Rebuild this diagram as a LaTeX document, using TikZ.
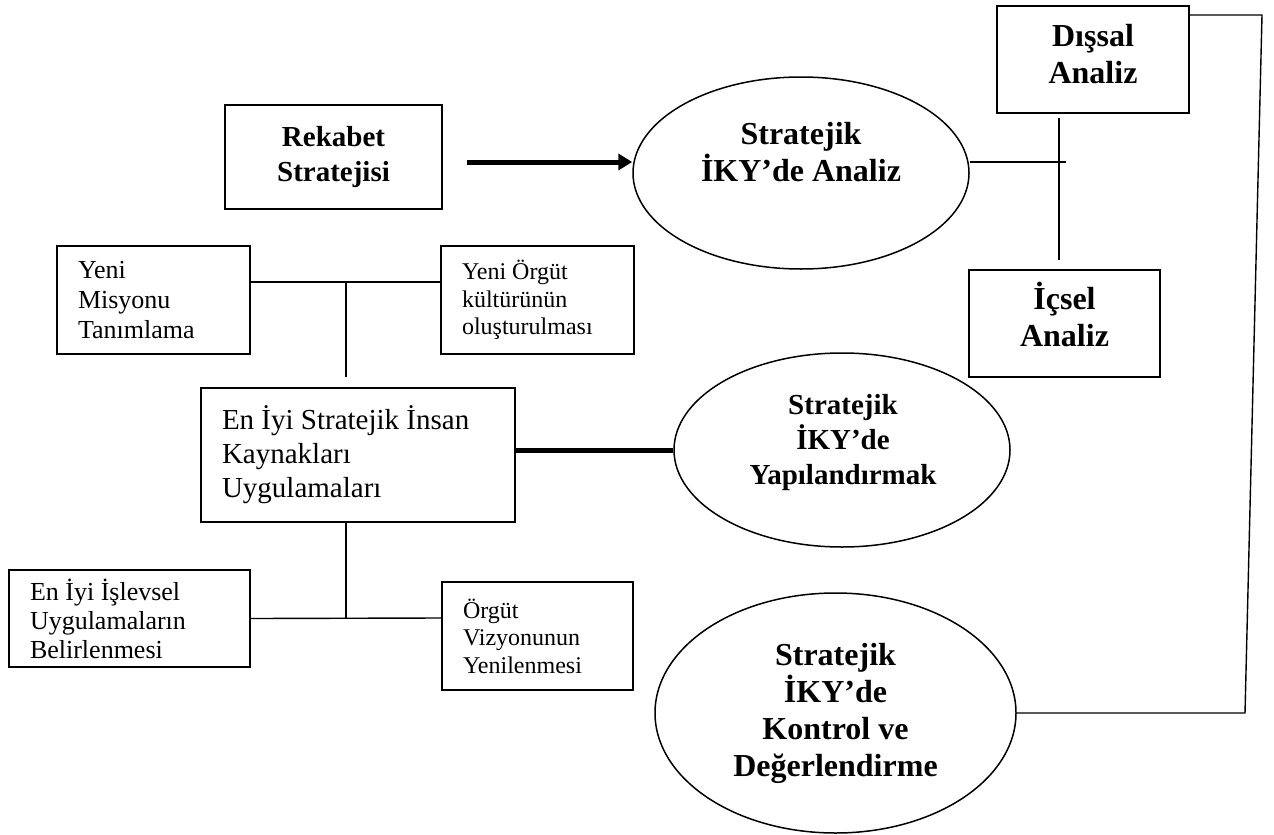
\documentclass[tikz,border=0pt]{standalone}
\usepackage{fontspec}
\setmainfont{Liberation Serif}
\usetikzlibrary{shapes.geometric,arrows.meta,calc}

\begin{document}
\begin{tikzpicture}[x=0.5pt,y=-0.5pt,
  box/.style={draw,line width=0.9pt,rectangle,inner sep=0pt,align=center},
  lbox/.style={draw,line width=0.9pt,rectangle,inner xsep=10.5pt,inner ysep=0pt,align=flush left},
  oval/.style={draw,line width=0.75pt,ellipse,inner sep=0pt},
  link/.style={line width=0.7pt},
  heavy/.style={line width=2.5pt},
  big/.style={font=\fontsize{16}{18.5}\selectfont\bfseries,align=center},
  mid/.style={font=\fontsize{14.5}{17.5}\selectfont\bfseries,align=center},
]
\useasboundingbox (0,0) rectangle (1274,835);

% analysis boxes and strategy box
\node[box,big,minimum width=96pt,minimum height=53.5pt,text depth=6pt] (ds) at (1093,59.5) {Dışsal\\Analiz};
\node[box,big,minimum width=95.5pt,minimum height=53.5pt,text depth=9pt] (ic) at (1064.5,323.5) {İçsel\\Analiz};
\node[box,mid,minimum width=108.5pt,minimum height=52pt] (rk) at (333.5,157) {Rekabet\\Stratejisi};

% the three stages
\node[oval,minimum width=168pt,minimum height=96pt] (e1) at (801,173) {};
\node[big] (t1) at (801,152) {Stratejik\\İKY’de Analiz};
\node[oval,minimum width=168pt,minimum height=97pt] (e2) at (842,450) {};
\node[mid] (t2) at (843,443) {Stratejik\\İKY’de\\Yapılandırmak};
\node[oval,minimum width=180.5pt,minimum height=120pt] (e3) at (835.5,713) {};
\node[big] (t3) at (835.5,713) {Stratejik\\İKY’de\\Kontrol ve\\Değerlendirme};

% practice boxes
\node[lbox,font=\fontsize{13}{15.2}\selectfont,text width=75.5pt,minimum height=54pt] (ym) at (153.5,300) {Yeni\\Misyonu\\Tanımlama};
\node[lbox,font=\fontsize{12}{13.8}\selectfont,text width=75.5pt,minimum height=54pt] (yo) at (537.5,300) {Yeni Örgüt\\kültürünün\\oluşturulması};
\node[lbox,font=\fontsize{14.5}{17}\selectfont,text width=136pt,minimum height=67pt] (cb) at (358,455) {En İyi Stratejik İnsan\\Kaynakları\\Uygulamaları};
\node[lbox,font=\fontsize{13}{14.5}\selectfont,text width=99.5pt,minimum height=48.5pt] (fn) at (129.5,618.5) {En İyi İşlevsel\\Uygulamaların\\Belirlenmesi};
\node[lbox,font=\fontsize{12}{13.75}\selectfont,text width=74.5pt,minimum height=54pt] (ov) at (537.5,636) {Örgüt\\Vizyonunun\\Yenilenmesi};

% upper bracket
\coordinate (jt) at (346,282);
\draw[link] ([yshift=9pt]ym.east) -- ([yshift=9pt]yo.west);
\coordinate (jt2) at ($(jt |- cb.north)+(0,-10)$);
\draw[link] (jt) -- (jt2);

% lower bracket
\coordinate (jb) at (346,618);
\draw[link] (jb |- cb.south) -- (jb);
\draw[link] (fn.east) -- ([yshift=9pt]ov.west);

% heavy link to structuring stage
\draw[heavy] (e2.west -| cb.east) -- (e2.west);

% arrow into analysis stage
\coordinate (a0) at ([xshift=12pt,yshift=-2.5pt]rk.east);
\draw[heavy,-{Triangle[length=7pt,width=8pt]}] (a0) -- (a0 -| e1.west);

% analysis cross
\coordinate (xr) at (1066,162);
\draw[link] (xr -| e1.east) -- (xr);
\coordinate (vx) at (1059,0);
\coordinate (v1) at ($(ds.south -| vx)+(0,4)$);
\coordinate (v2) at ($(ic.north -| vx)+(0,-9)$);
\draw[link] (v1) -- (v2);

% feedback loop
\coordinate (f1) at (1262,15);
\coordinate (f2) at (1245,713);
\draw[link] (ds.east |- f1) -- (f1) -- (f2) -- (e3.east);
\end{tikzpicture}
\end{document}
